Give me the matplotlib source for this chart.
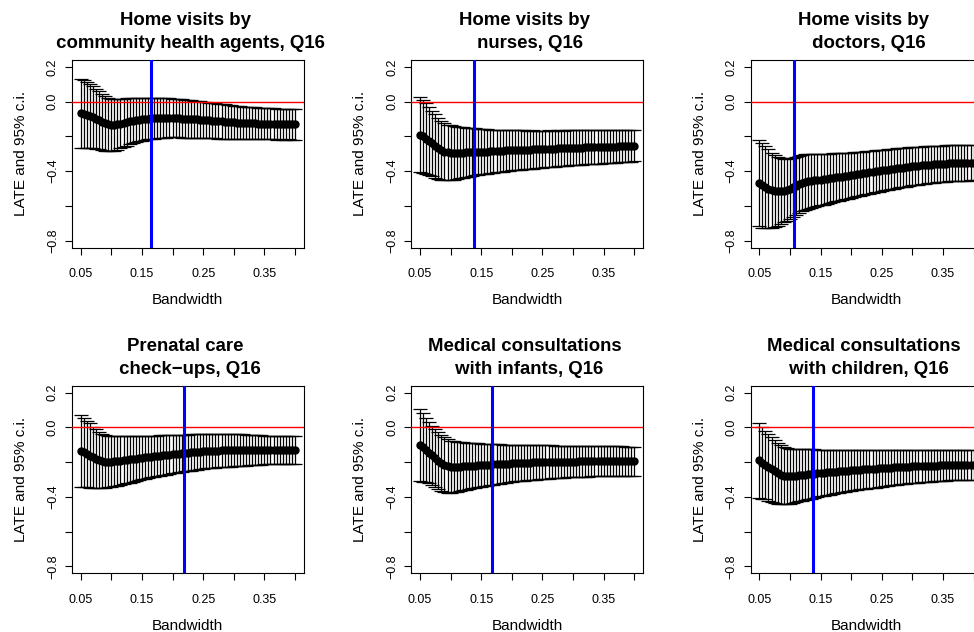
import matplotlib
matplotlib.use("Agg")
import matplotlib.pyplot as plt

plt.rcParams['font.family'] = ['Liberation Sans', 'DejaVu Sans']

# ---------------- data ----------------
bandwidth = [0.050, 0.055, 0.060, 0.065, 0.070, 0.075, 0.080, 0.085, 0.090, 0.095,
             0.100, 0.105, 0.110, 0.115, 0.120, 0.125, 0.130, 0.135, 0.140, 0.145,
             0.150, 0.155, 0.160, 0.165, 0.170, 0.175, 0.180, 0.185, 0.190, 0.195,
             0.200, 0.205, 0.210, 0.215, 0.220, 0.225, 0.230, 0.235, 0.240, 0.245,
             0.250, 0.255, 0.260, 0.265, 0.270, 0.275, 0.280, 0.285, 0.290, 0.295,
             0.300, 0.305, 0.310, 0.315, 0.320, 0.325, 0.330, 0.335, 0.340, 0.345,
             0.350, 0.355, 0.360, 0.365, 0.370, 0.375, 0.380, 0.385, 0.390, 0.395,
             0.400]

titles = ["Home visits by \n community health agents, Q16",
          "Home visits by \n nurses, Q16",
          "Home visits by \n doctors, Q16",
          "Prenatal care \n check\u2212ups, Q16",
          "Medical consultations \n with infants, Q16",
          "Medical consultations \n with children, Q16"]

optimal_bw = [0.165, 0.139, 0.106, 0.219, 0.168, 0.138]

late_chw = [-0.067, -0.070, -0.075, -0.082, -0.090, -0.099, -0.108, -0.117, -0.125, -0.131, -0.135,
            -0.134, -0.131, -0.127, -0.122, -0.117, -0.113, -0.109, -0.106, -0.103, -0.101,
            -0.099, -0.097, -0.096, -0.095, -0.094, -0.093, -0.093, -0.093, -0.093, -0.094,
            -0.095, -0.096, -0.097, -0.098, -0.099, -0.100, -0.101, -0.102, -0.103, -0.104,
            -0.106, -0.107, -0.109, -0.110, -0.112, -0.113, -0.115, -0.116, -0.118, -0.119,
            -0.120, -0.121, -0.122, -0.123, -0.123, -0.124, -0.125, -0.126, -0.126, -0.127,
            -0.127, -0.128, -0.128, -0.129, -0.129, -0.130, -0.130, -0.130, -0.131, -0.131]
ci_chw = [0.200, 0.196, 0.190, 0.184, 0.178, 0.172, 0.167, 0.162, 0.158, 0.154, 0.151,
          0.148, 0.145, 0.142, 0.139, 0.136, 0.133, 0.130, 0.128, 0.126, 0.124,
          0.122, 0.120, 0.119, 0.118, 0.117, 0.116, 0.115, 0.114, 0.113, 0.112,
          0.111, 0.110, 0.110, 0.109, 0.108, 0.107, 0.107, 0.106, 0.105, 0.104,
          0.103, 0.102, 0.102, 0.101, 0.100, 0.099, 0.099, 0.098, 0.097, 0.096,
          0.095, 0.095, 0.094, 0.093, 0.093, 0.092, 0.092, 0.091, 0.091, 0.090,
          0.090, 0.089, 0.089, 0.089, 0.088, 0.088, 0.088, 0.087, 0.087, 0.087]

late_nurse = [-0.190, -0.200, -0.212, -0.226, -0.240, -0.255, -0.269, -0.280, -0.288, -0.292, -0.294,
              -0.294, -0.294, -0.293, -0.293, -0.292, -0.291, -0.290, -0.289, -0.289, -0.288,
              -0.287, -0.287, -0.286, -0.285, -0.284, -0.283, -0.282, -0.281, -0.281, -0.280,
              -0.279, -0.279, -0.278, -0.277, -0.277, -0.276, -0.275, -0.275, -0.274, -0.273,
              -0.272, -0.271, -0.271, -0.270, -0.269, -0.268, -0.268, -0.267, -0.266, -0.265,
              -0.265, -0.264, -0.264, -0.263, -0.263, -0.262, -0.262, -0.261, -0.261, -0.260,
              -0.259, -0.259, -0.258, -0.258, -0.257, -0.257, -0.256, -0.255, -0.255, -0.254]
ci_nurse = [0.216, 0.210, 0.203, 0.196, 0.189, 0.182, 0.176, 0.170, 0.164, 0.160, 0.157,
            0.154, 0.151, 0.148, 0.145, 0.142, 0.140, 0.137, 0.135, 0.132, 0.130,
            0.128, 0.127, 0.125, 0.124, 0.122, 0.121, 0.120, 0.119, 0.117, 0.116,
            0.115, 0.114, 0.113, 0.112, 0.111, 0.110, 0.110, 0.109, 0.108, 0.107,
            0.106, 0.106, 0.105, 0.104, 0.104, 0.103, 0.102, 0.102, 0.101, 0.100,
            0.100, 0.099, 0.099, 0.098, 0.098, 0.097, 0.097, 0.096, 0.096, 0.095,
            0.095, 0.094, 0.094, 0.093, 0.093, 0.092, 0.092, 0.091, 0.091, 0.090]

late_doctor = [-0.468, -0.481, -0.492, -0.502, -0.510, -0.515, -0.517, -0.516, -0.512, -0.508, -0.502,
               -0.494, -0.485, -0.476, -0.468, -0.463, -0.459, -0.456, -0.453, -0.450, -0.448,
               -0.446, -0.443, -0.441, -0.438, -0.436, -0.433, -0.431, -0.429, -0.426, -0.424,
               -0.421, -0.418, -0.416, -0.413, -0.410, -0.407, -0.404, -0.401, -0.399, -0.396,
               -0.393, -0.391, -0.388, -0.386, -0.383, -0.381, -0.379, -0.377, -0.374, -0.372,
               -0.370, -0.368, -0.366, -0.365, -0.363, -0.362, -0.360, -0.359, -0.358, -0.357,
               -0.356, -0.355, -0.355, -0.354, -0.354, -0.353, -0.353, -0.353, -0.352, -0.352]
ci_doctor = [0.250, 0.245, 0.238, 0.228, 0.217, 0.208, 0.200, 0.191, 0.183, 0.179, 0.175,
             0.172, 0.169, 0.166, 0.163, 0.160, 0.158, 0.155, 0.153, 0.150, 0.148,
             0.146, 0.144, 0.142, 0.140, 0.138, 0.137, 0.135, 0.133, 0.132, 0.130,
             0.129, 0.127, 0.126, 0.125, 0.124, 0.123, 0.122, 0.121, 0.119, 0.118,
             0.117, 0.116, 0.116, 0.115, 0.114, 0.113, 0.113, 0.112, 0.111, 0.110,
             0.109, 0.109, 0.108, 0.108, 0.107, 0.107, 0.106, 0.105, 0.105, 0.104,
             0.104, 0.103, 0.103, 0.102, 0.102, 0.101, 0.101, 0.101, 0.100, 0.100]

late_prenatal = [-0.135, -0.145, -0.154, -0.163, -0.172, -0.180, -0.188, -0.193, -0.197, -0.198, -0.197,
                 -0.196, -0.194, -0.192, -0.190, -0.188, -0.185, -0.183, -0.180, -0.178, -0.175,
                 -0.173, -0.171, -0.169, -0.167, -0.165, -0.163, -0.161, -0.159, -0.157, -0.155,
                 -0.153, -0.152, -0.150, -0.148, -0.147, -0.145, -0.144, -0.142, -0.141, -0.139,
                 -0.138, -0.137, -0.136, -0.135, -0.134, -0.133, -0.133, -0.132, -0.132, -0.131,
                 -0.131, -0.131, -0.131, -0.131, -0.131, -0.131, -0.131, -0.131, -0.131, -0.131,
                 -0.131, -0.131, -0.131, -0.131, -0.130, -0.130, -0.130, -0.130, -0.130, -0.130]
ci_prenatal = [0.207, 0.197, 0.192, 0.186, 0.176, 0.168, 0.163, 0.155, 0.150, 0.148, 0.147,
               0.144, 0.142, 0.140, 0.137, 0.135, 0.133, 0.131, 0.129, 0.127, 0.125,
               0.123, 0.122, 0.120, 0.119, 0.117, 0.116, 0.115, 0.113, 0.112, 0.110,
               0.109, 0.108, 0.107, 0.106, 0.105, 0.104, 0.103, 0.102, 0.101, 0.100,
               0.099, 0.099, 0.098, 0.097, 0.097, 0.096, 0.095, 0.095, 0.094, 0.093,
               0.092, 0.091, 0.090, 0.089, 0.088, 0.087, 0.086, 0.085, 0.084, 0.083,
               0.083, 0.082, 0.082, 0.082, 0.081, 0.081, 0.081, 0.080, 0.080, 0.080]

late_infant = [-0.102, -0.116, -0.131, -0.146, -0.162, -0.178, -0.193, -0.205, -0.216, -0.223, -0.227,
               -0.228, -0.228, -0.227, -0.225, -0.224, -0.223, -0.222, -0.221, -0.219, -0.218,
               -0.217, -0.216, -0.215, -0.214, -0.213, -0.212, -0.211, -0.210, -0.209, -0.208,
               -0.207, -0.206, -0.205, -0.205, -0.204, -0.203, -0.202, -0.202, -0.201, -0.200,
               -0.200, -0.199, -0.199, -0.199, -0.198, -0.198, -0.198, -0.197, -0.197, -0.197,
               -0.197, -0.196, -0.196, -0.196, -0.196, -0.195, -0.195, -0.195, -0.195, -0.195,
               -0.195, -0.195, -0.195, -0.195, -0.195, -0.196, -0.196, -0.196, -0.196, -0.196]
ci_infant = [0.209, 0.197, 0.185, 0.175, 0.170, 0.166, 0.164, 0.161, 0.158, 0.155, 0.150,
             0.147, 0.144, 0.141, 0.138, 0.135, 0.133, 0.130, 0.128, 0.126, 0.123,
             0.121, 0.120, 0.118, 0.116, 0.115, 0.113, 0.111, 0.110, 0.108, 0.106,
             0.105, 0.104, 0.103, 0.102, 0.101, 0.100, 0.099, 0.099, 0.098, 0.097,
             0.096, 0.096, 0.095, 0.094, 0.093, 0.093, 0.092, 0.091, 0.091, 0.090,
             0.090, 0.089, 0.089, 0.089, 0.088, 0.088, 0.088, 0.087, 0.087, 0.087,
             0.087, 0.086, 0.086, 0.086, 0.086, 0.086, 0.085, 0.085, 0.085, 0.085]

late_child = [-0.190, -0.203, -0.216, -0.230, -0.243, -0.254, -0.264, -0.272, -0.278, -0.281, -0.282,
              -0.281, -0.279, -0.277, -0.274, -0.272, -0.270, -0.268, -0.267, -0.265, -0.263,
              -0.261, -0.260, -0.258, -0.256, -0.255, -0.253, -0.252, -0.250, -0.249, -0.247,
              -0.246, -0.245, -0.244, -0.243, -0.241, -0.240, -0.239, -0.238, -0.236, -0.235,
              -0.234, -0.233, -0.232, -0.231, -0.230, -0.229, -0.228, -0.227, -0.226, -0.225,
              -0.224, -0.224, -0.223, -0.222, -0.222, -0.221, -0.220, -0.220, -0.219, -0.219,
              -0.218, -0.218, -0.218, -0.217, -0.217, -0.217, -0.217, -0.216, -0.216, -0.216]
ci_child = [0.217, 0.207, 0.197, 0.192, 0.185, 0.181, 0.176, 0.170, 0.163, 0.160, 0.157,
            0.155, 0.153, 0.150, 0.148, 0.146, 0.144, 0.142, 0.140, 0.137, 0.135,
            0.133, 0.131, 0.129, 0.127, 0.125, 0.124, 0.122, 0.120, 0.119, 0.117,
            0.116, 0.115, 0.114, 0.113, 0.112, 0.111, 0.110, 0.109, 0.107, 0.106,
            0.105, 0.104, 0.103, 0.102, 0.101, 0.100, 0.099, 0.098, 0.097, 0.096,
            0.095, 0.095, 0.094, 0.093, 0.093, 0.092, 0.091, 0.091, 0.090, 0.089,
            0.089, 0.088, 0.088, 0.088, 0.087, 0.087, 0.087, 0.086, 0.086, 0.086]

estimates = [late_chw, late_nurse, late_doctor, late_prenatal, late_infant, late_child]
halfwidths = [ci_chw, ci_nurse, ci_doctor, ci_prenatal, ci_infant, ci_child]

x_ticks = [0.05, 0.10, 0.15, 0.20, 0.25, 0.30, 0.35, 0.40]
x_tick_labels = ["0.05", "", "0.15", "", "0.25", "", "0.35", ""]
y_ticks = [0.2, 0.0, -0.2, -0.4, -0.6, -0.8]
y_tick_labels = ["0.2", "0.0", "", "\u22120.4", "", "\u22120.8"]

# ---------------- layout ----------------
W, H = 974, 632
fig = plt.figure(figsize=(W / 100, H / 100), dpi=100)

xlim = (0.036, 0.414)
ylim = (-0.84, 0.24)
px_per_unit_x = 612.3
ax_w = (xlim[1] - xlim[0]) * px_per_unit_x
ax_h = 187.6
col_left = [72.1, 411.4, 750.7]
row_top = [60.0, 385.6]

for i in range(6):
    r, c = divmod(i, 3)
    left = col_left[c]
    top = row_top[r]
    ax = fig.add_axes([left / W, 1 - (top + ax_h) / H, ax_w / W, ax_h / H])

    ax.errorbar(bandwidth, estimates[i], yerr=halfwidths[i], fmt='o', color='black',
                ms=5, ecolor='black', elinewidth=0.9, capsize=4.8,
                capthick=0.9, zorder=2)
    ax.axhline(0, color='red', lw=1.0, zorder=3)
    ax.axvline(optimal_bw[i], color='blue', lw=2.2, zorder=4)

    ax.set_xlim(*xlim)
    ax.set_ylim(*ylim)
    ax.set_xticks(x_ticks)
    ax.set_xticklabels(x_tick_labels)
    ax.set_yticks(y_ticks)
    ax.set_yticklabels(y_tick_labels, rotation=90, va='center')
    ax.tick_params(axis='both', direction='out', length=5, width=0.8,
                   labelsize=9, colors='black')
    ax.tick_params(axis='x', pad=10)
    ax.tick_params(axis='y', pad=4.5)
    for sp in ax.spines.values():
        sp.set_linewidth(0.8)
        sp.set_color('black')

    ax.set_xlabel("Bandwidth", fontsize=11, labelpad=9)
    ax.set_ylabel("LATE and 95% c.i.", fontsize=11, labelpad=13.5)
    ax.set_title(titles[i], fontsize=13.4, fontweight='bold', linespacing=1.47, pad=8.5)

fig.savefig("out.png", dpi=100)
